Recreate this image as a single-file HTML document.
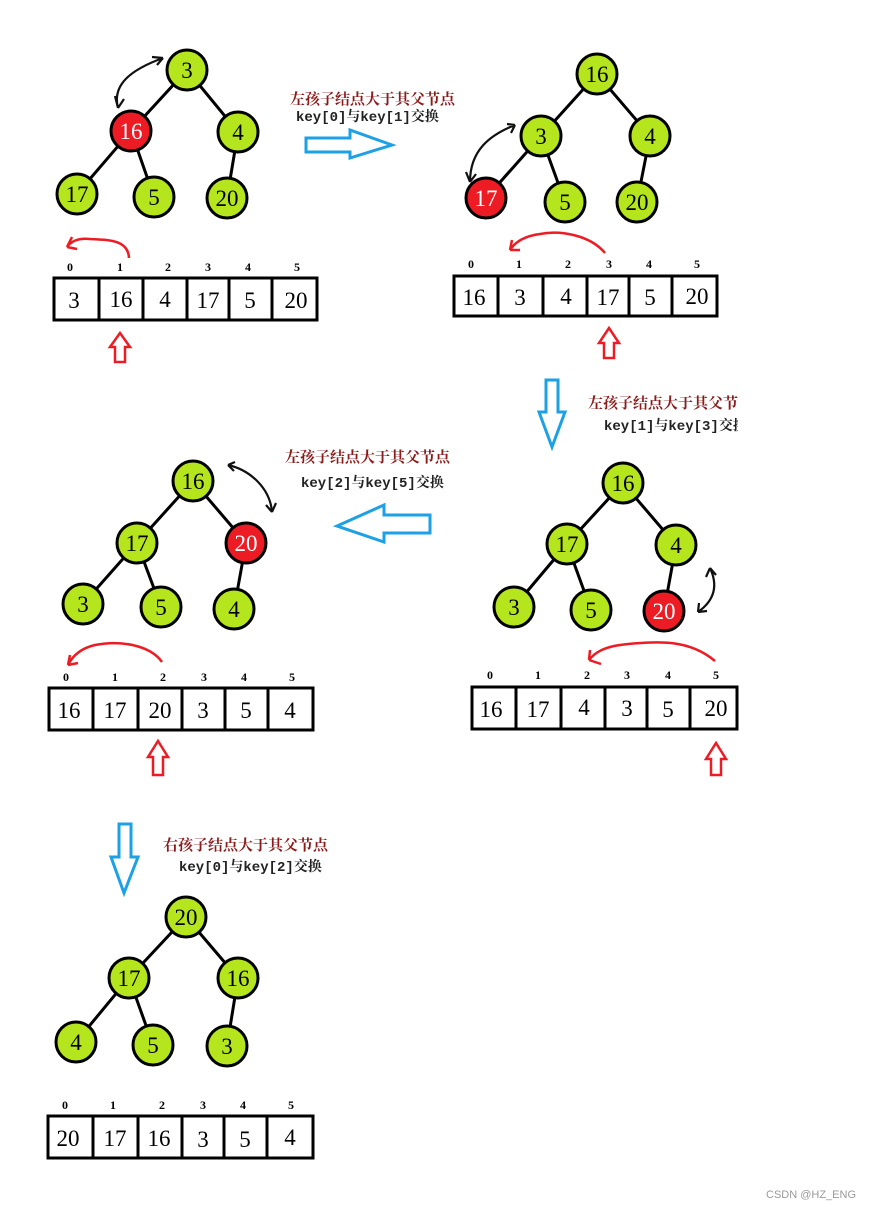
<!DOCTYPE html>
<html><head><meta charset="utf-8"><style>
html,body{margin:0;padding:0;background:#fff}
svg{display:block}
.n{font-family:"Liberation Serif",serif;font-size:23px;text-anchor:middle}
.c{font-family:"Liberation Serif",serif;font-size:23px;text-anchor:middle}
.i{font-family:"Liberation Serif",serif;font-size:12px;font-weight:bold;text-anchor:middle}
.t1{font-family:"Liberation Sans","Noto Serif CJK SC",serif;font-size:15px;font-weight:bold;fill:#8b1a1a}
.t2{font-family:"Liberation Mono","Noto Serif CJK SC",monospace;font-size:14px;font-weight:bold;fill:#222}
</style></head><body>
<svg width="869" height="1209" viewBox="0 0 869 1209" xmlns="http://www.w3.org/2000/svg">
<defs>
<clipPath id="cl"><rect x="0" y="0" width="738" height="1209"/></clipPath>
</defs>
<g stroke="#000" stroke-width="3" fill="none">
<path d="M187 70L131 131M187 70L238 132M131 131L77 194M131 131L154 197M238 132L227 198"/>
<path d="M597 74L541 136M597 74L650 136M541 136L486 198M541 136L565 202M650 136L637 202"/>
<path d="M193 481L137 543M193 481L246 543M137 543L83 604M137 543L161 607M246 543L234 609"/>
<path d="M623 483L567 544M623 483L676 545M567 544L514 607M567 544L591 610M676 545L664 611"/>
<path d="M186 917L129 978M186 917L238 978M129 978L76 1042M129 978L153 1045M238 978L227 1046"/>
</g>
<g stroke="#000" stroke-width="3">
<g fill="#b5e61d">
<circle cx="187" cy="70" r="20"/><circle cx="238" cy="132" r="20"/><circle cx="77" cy="194" r="20"/><circle cx="154" cy="197" r="20"/><circle cx="227" cy="198" r="20"/>
<circle cx="597" cy="74" r="20"/><circle cx="541" cy="136" r="20"/><circle cx="650" cy="136" r="20"/><circle cx="565" cy="202" r="20"/><circle cx="637" cy="202" r="20"/>
<circle cx="193" cy="481" r="20"/><circle cx="137" cy="543" r="20"/><circle cx="83" cy="604" r="20"/><circle cx="161" cy="607" r="20"/><circle cx="234" cy="609" r="20"/>
<circle cx="623" cy="483" r="20"/><circle cx="567" cy="544" r="20"/><circle cx="676" cy="545" r="20"/><circle cx="514" cy="607" r="20"/><circle cx="591" cy="610" r="20"/>
<circle cx="186" cy="917" r="20"/><circle cx="129" cy="978" r="20"/><circle cx="238" cy="978" r="20"/><circle cx="76" cy="1042" r="20"/><circle cx="153" cy="1045" r="20"/><circle cx="227" cy="1046" r="20"/>
</g>
<g fill="#ed1c24">
<circle cx="131" cy="131" r="20"/><circle cx="486" cy="198" r="20"/><circle cx="246" cy="543" r="20"/><circle cx="664" cy="611" r="20"/>
</g>
</g>
<g class="n">
<text x="187" y="78">3</text><text x="131" y="139" fill="#fff">16</text><text x="238" y="140">4</text><text x="77" y="202">17</text><text x="154" y="205">5</text><text x="227" y="206">20</text>
<text x="597" y="82">16</text><text x="541" y="144">3</text><text x="650" y="144">4</text><text x="486" y="206" fill="#fff">17</text><text x="565" y="210">5</text><text x="637" y="210">20</text>
<text x="193" y="489">16</text><text x="137" y="551">17</text><text x="246" y="551" fill="#fff">20</text><text x="83" y="612">3</text><text x="161" y="615">5</text><text x="234" y="617">4</text>
<text x="623" y="491">16</text><text x="567" y="552">17</text><text x="676" y="553">4</text><text x="664" y="619" fill="#fff">20</text><text x="514" y="615">3</text><text x="591" y="618">5</text>
<text x="186" y="925">20</text><text x="129" y="986">17</text><text x="238" y="986">16</text><text x="76" y="1050">4</text><text x="153" y="1053">5</text><text x="227" y="1054">3</text>
</g>
<g fill="none" stroke="#000" stroke-width="3">
<rect x="54" y="278" width="263" height="42"/><path d="M99 278V320M143 278V320M187 278V320M229 278V320M272 278V320"/>
<rect x="454" y="276" width="263" height="40"/><path d="M498 276V316M543 276V316M587 276V316M629 276V316M672 276V316"/>
<rect x="49" y="688" width="264" height="42"/><path d="M93 688V730M138 688V730M182 688V730M225 688V730M268 688V730"/>
<rect x="472" y="687" width="265" height="42"/><path d="M516 687V729M561 687V729M605 687V729M647 687V729M690 687V729"/>
<rect x="48" y="1116" width="265" height="42"/><path d="M93 1116V1158M138 1116V1158M182 1116V1158M224 1116V1158M267 1116V1158"/>
</g>
<g class="c">
<text x="74" y="308">3</text><text x="121" y="307">16</text><text x="165" y="307">4</text><text x="208" y="308">17</text><text x="250" y="308">5</text><text x="296" y="308">20</text>
<text x="474" y="305">16</text><text x="520" y="305">3</text><text x="566" y="304">4</text><text x="608" y="305">17</text><text x="650" y="305">5</text><text x="697" y="304">20</text>
<text x="69" y="718">16</text><text x="115" y="718">17</text><text x="160" y="718">20</text><text x="203" y="718">3</text><text x="246" y="718">5</text><text x="290" y="718">4</text>
<text x="491" y="717">16</text><text x="538" y="717">17</text><text x="584" y="715">4</text><text x="627" y="716">3</text><text x="668" y="717">5</text><text x="716" y="716">20</text>
<text x="68" y="1146">20</text><text x="115" y="1146">17</text><text x="159" y="1146">16</text><text x="203" y="1147">3</text><text x="245" y="1147">5</text><text x="290" y="1145">4</text>
</g>
<g class="i">
<text x="70" y="271">0</text><text x="120" y="271">1</text><text x="168" y="271">2</text><text x="208" y="271">3</text><text x="248" y="271">4</text><text x="297" y="271">5</text>
<text x="471" y="268">0</text><text x="519" y="268">1</text><text x="568" y="268">2</text><text x="609" y="268">3</text><text x="649" y="268">4</text><text x="697" y="268">5</text>
<text x="66" y="681">0</text><text x="115" y="681">1</text><text x="163" y="681">2</text><text x="204" y="681">3</text><text x="244" y="681">4</text><text x="292" y="681">5</text>
<text x="490" y="679">0</text><text x="538" y="679">1</text><text x="587" y="679">2</text><text x="627" y="679">3</text><text x="668" y="679">4</text><text x="716" y="679">5</text>
<text x="65" y="1109">0</text><text x="113" y="1109">1</text><text x="162" y="1109">2</text><text x="203" y="1109">3</text><text x="243" y="1109">4</text><text x="291" y="1109">5</text>
</g>
<g fill="none" stroke="#ed1c24" stroke-width="2.5">
<path d="M115 362V347H110L120 333L130 347H125V362Z"/>
<path d="M604 358V343H599L609 328L619 343H614V358Z"/>
<path d="M153 775V757H148L158 741L168 757H163V775Z"/>
<path d="M711 775V759H706L716 743L726 759H721V775Z"/>
<path d="M129 258C128 240 110 240 90 239C80 238 72 240 67 247M67 247L72 237M67 247L77 249"/>
<path d="M605 253C590 235 560 230 540 234C525 236 515 242 510 250M510 250L512 240M510 250L520 250"/>
<path d="M162 662C150 645 120 640 95 645C82 648 73 655 68 665M68 665L70 655M68 665L78 663"/>
<path d="M715 661C690 640 660 640 620 645C605 647 595 652 589 660M589 660L590 650M589 660L601 664"/>
</g>
<g fill="none" stroke="#111" stroke-width="2.2">
<path d="M118 108C112 85 130 70 163 58M118 108L115 96M118 108L124 99M163 58L152 57M163 58L157 65"/>
<path d="M515 125C490 135 470 150 470 182M515 125L507 124M515 125L511 133M470 182L466 172M470 182L476 174"/>
<path d="M228 465C250 470 270 488 272 512M228 465L235 462M228 465L234 471M272 512L266 505M272 512L276 503"/>
<path d="M710 568C718 585 715 600 698 612M710 568L706 577M710 568L716 575M698 612L707 611M698 612L699 603"/>
</g>
<g fill="none" stroke="#1ca0e6" stroke-width="3">
<path d="M306 138H350V130L392 145L350 158V152H306Z"/>
<path d="M546 380H558V412H565L552 447L539 412H546Z"/>
<path d="M430 515H384V505L337 526L384 542V533H430Z"/>
<path d="M119 824H131V857H138L124 893L111 857H119Z"/>
</g>
<text class="t1" x="290" y="104">左孩子结点大于其父节点</text>
<text class="t2" x="296" y="121">key[0]与key[1]交换</text>
<g clip-path="url(#cl)">
<text class="t1" x="588" y="408">左孩子结点大于其父节点</text>
<text class="t2" x="604" y="430">key[1]与key[3]交换</text>
</g>
<text class="t1" x="285" y="462">左孩子结点大于其父节点</text>
<text class="t2" x="301" y="487">key[2]与key[5]交换</text>
<text class="t1" x="163" y="850">右孩子结点大于其父节点</text>
<text class="t2" x="179" y="871">key[0]与key[2]交换</text>
<text x="766" y="1198" font-family="Liberation Sans,sans-serif" font-size="11" fill="#999">CSDN @HZ_ENG</text>
</svg>
</body></html>
